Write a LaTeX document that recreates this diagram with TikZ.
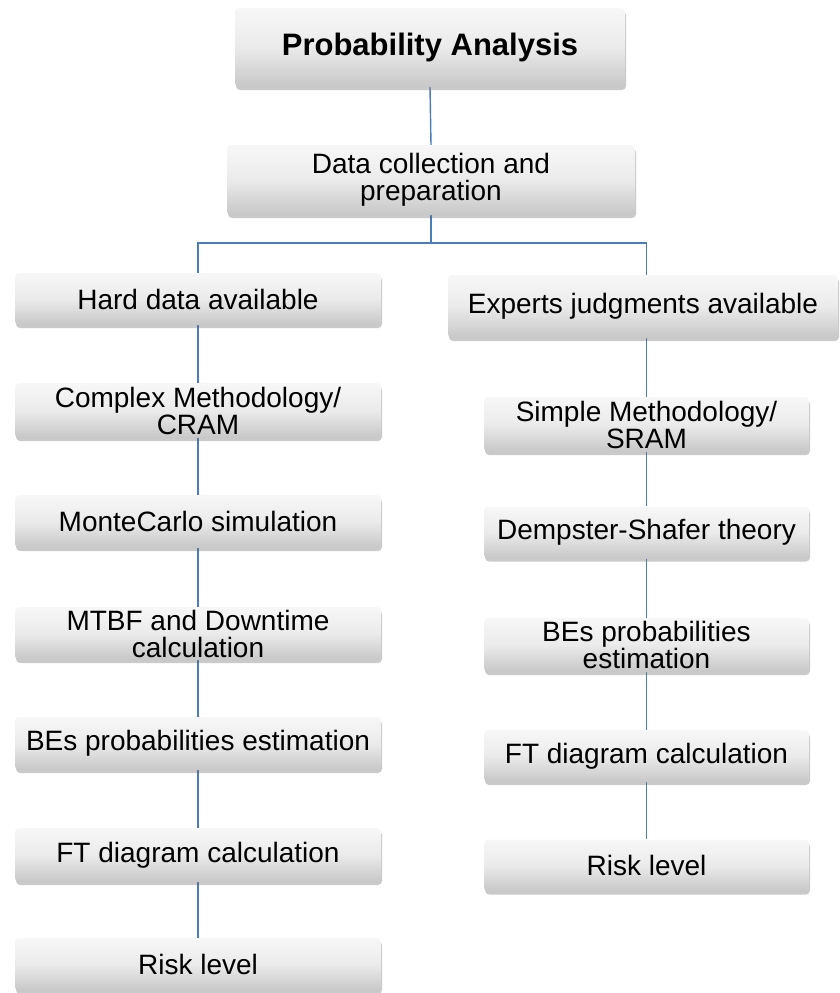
\documentclass[tikz,border=0pt]{standalone}
\usepackage{fontspec}
\setmainfont{Liberation Sans}
\usetikzlibrary{shadows,calc}
\pgfdeclarelayer{background}
\pgfsetlayers{background,main}
\definecolor{linkblue}{RGB}{74,126,187}
\tikzset{
  box/.style={rectangle, rounded corners=4pt, top color=white!97!black, bottom color=black!22,
    middle color=black!8, draw=none, align=center, inner sep=0pt,
    font=\fontsize{28}{27}\selectfont,
    drop shadow={shadow xshift=1pt, shadow yshift=-3pt, opacity=0.35, fill=black!60}},
  lbox/.style={box, minimum width=366pt},
  rbox/.style={box, minimum width=325pt},
  link/.style={draw=linkblue, line width=1.4pt}
}
\begin{document}
\begin{tikzpicture}[x=1pt,y=-1pt]
\useasboundingbox (0,0) rectangle (840,993);
% top
\node[box, minimum width=390pt, minimum height=79pt, font=\fontsize{31}{31}\selectfont\bfseries] (pa) at (430,47.5) {Probability Analysis};
\node[box, minimum width=408pt, minimum height=70pt] (dc) at (431,180) {Data collection and\\preparation};
% left column
\node[lbox, minimum height=52pt] (hd) at (198,299) {Hard data available};
\node[lbox, minimum height=55pt] (cm) at (198,410.5) {Complex Methodology/\\CRAM};
\node[lbox, minimum height=53pt] (mc) at (198,521.5) {MonteCarlo simulation};
\node[lbox, minimum height=53pt] (mt) at (198,633.5) {MTBF and Downtime\\calculation};
\node[lbox, minimum height=53pt] (be) at (198,743.5) {BEs probabilities estimation};
\node[lbox, minimum height=54pt] (ft) at (198,855) {FT diagram calculation};
\node[lbox, minimum height=53pt] (rl) at (198,964.5) {Risk level};
% right column
\node[box, minimum width=390pt, minimum height=63pt] (ej) at (643,306.5) {Experts judgments available};
\node[rbox, minimum height=55pt] (sm) at (646.5,424.5) {Simple Methodology/\\SRAM};
\node[rbox, minimum height=52pt] (ds) at (646.5,532.5) {Dempster-Shafer theory};
\node[rbox, minimum height=54pt] (rb) at (646.5,645) {BEs probabilities\\estimation};
\node[rbox, minimum height=52pt] (rf) at (646.5,756) {FT diagram calculation};
\node[rbox, minimum height=52pt] (rr) at (646.5,865.5) {Risk level};
\coordinate (j) at (431,243);
\begin{pgfonlayer}{background}
\draw[link] (pa.south) -- (dc.north);
\draw[link] (dc.south) -- (j);
\draw[link] (j) -| (hd.north);
\draw[link] (j) -| (sm.north |- ej.north);
\draw[link] (hd.south) -- (cm.north);
\draw[link] (cm.south) -- (mc.north);
\draw[link] (mc.south) -- (mt.north);
\draw[link] (mt.south) -- (be.north);
\draw[link] (be.south) -- (ft.north);
\draw[link] (ft.south) -- (rl.north);
\draw[link] (sm.north |- ej.south) -- (sm.north);
\draw[link] (sm.south) -- (ds.north);
\draw[link] (ds.south) -- (rb.north);
\draw[link] (rb.south) -- (rf.north);
\draw[link] (rf.south) -- (rr.north);
\end{pgfonlayer}
\end{tikzpicture}
\end{document}
